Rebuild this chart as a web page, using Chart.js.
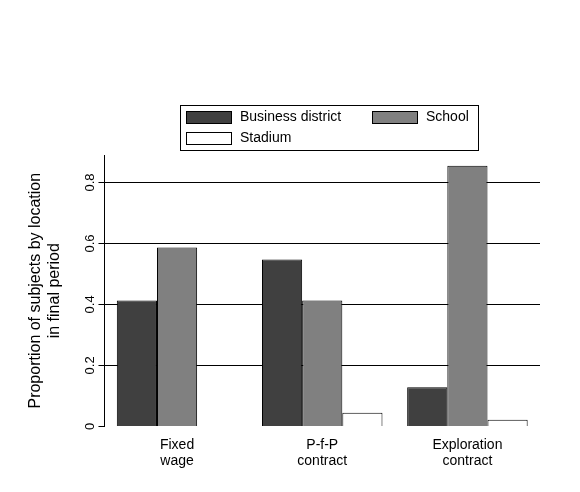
<!DOCTYPE html>
<html>
<head>
<meta charset="utf-8">
<script src="https://cdn.jsdelivr.net/npm/chart.js@4"></script>
<style>
  body { margin: 0; background: #fff; }
  #wrap { width: 580px; height: 492px; }
</style>
</head>
<body>
<div id="wrap"><canvas id="c" width="580" height="492"></canvas></div>
<script>
// 数据
const categories = [['Fixed', 'wage'], ['P-f-P', 'contract'], ['Exploration', 'contract']];
const businessDistrict = [0.413, 0.547, 0.128];
const school = [0.587, 0.413, 0.855];
const stadium = [0, 0.045, 0.022];
const yTicks = [0, 0.2, 0.4, 0.6, 0.8];

const FONT = 'Liberation Sans, Arial, sans-serif';

// 图例 + 旋转的y轴刻度
const customDraw = {
  id: 'customDraw',
  afterDraw(chart) {
    const ctx = chart.ctx;
    const y = chart.scales.y;
    const a = chart.chartArea;
    ctx.save();
    ctx.fillStyle = '#000';
    ctx.font = '13px ' + FONT;
    ctx.textAlign = 'center';
    ctx.textBaseline = 'bottom';
    yTicks.forEach(v => {
      ctx.save();
      ctx.translate(a.left - 8, y.getPixelForValue(v));
      ctx.rotate(-Math.PI / 2);
      ctx.fillText(v === 0 ? '0' : String(v), 0, 0);
      ctx.restore();
    });
    // 图例
    const lx = 180, ly = 105, lw = 298, lh = 45;
    ctx.strokeStyle = '#000';
    ctx.lineWidth = 1;
    ctx.strokeRect(lx + 0.5, ly + 0.5, lw, lh);
    const items = chart.data.datasets.map(d => ({ label: d.label, color: d.backgroundColor }));
    const pos = [[186, 111], [372, 111], [186, 132]];
    ctx.textAlign = 'left';
    ctx.textBaseline = 'middle';
    ctx.font = '14px ' + FONT;
    items.forEach((it, i) => {
      const [x, yy] = pos[i];
      ctx.fillStyle = it.color;
      ctx.fillRect(x, yy, 45, 12);
      ctx.strokeRect(x + 0.5, yy + 0.5, 45, 12);
      ctx.fillStyle = '#000';
      ctx.fillText(it.label, x + 54, yy + 6);
    });
    ctx.restore();
  }
};

new Chart(document.getElementById('c'), {
  type: 'bar',
  data: {
    labels: categories,
    datasets: [
      { label: 'Business district', data: businessDistrict, backgroundColor: '#404040', borderColor: '#000', borderWidth: 1 },
      { label: 'School', data: school, backgroundColor: '#808080', borderColor: '#000', borderWidth: 1 },
      { label: 'Stadium', data: stadium, backgroundColor: '#ffffff', borderColor: '#000', borderWidth: 1 }
    ]
  },
  options: {
    responsive: false,
    animation: false,
    layout: { padding: { top: 155, right: 40, left: 22, bottom: 20 } },
    plugins: { legend: { display: false }, tooltip: { enabled: false } },
    datasets: { bar: { categoryPercentage: 0.83, barPercentage: 1 } },
    scales: {
      x: {
        grid: { display: false, drawTicks: true },
        border: { display: false },
        ticks: { color: '#000', font: { size: 14, family: FONT }, padding: 2 }
      },
      y: {
        min: 0, max: 0.89,
        afterBuildTicks: s => { s.ticks = yTicks.map(v => ({ value: v })); },
        grid: {
          color: ctx => ctx.tick && ctx.tick.value === 0 ? 'rgba(0,0,0,0)' : '#000',
          drawTicks: true, tickLength: 6, tickColor: '#000'
        },
        border: { display: true, color: '#000' },
        ticks: { color: 'rgba(0,0,0,0)', font: { size: 13, family: FONT }, padding: 6 },
        title: {
          display: true,
          text: ['Proportion of subjects by location', 'in final period'],
          color: '#000',
          font: { size: 16, family: FONT },
          padding: { bottom: 4 }
        }
      }
    }
  },
  plugins: [customDraw]
});
</script>
</body>
</html>
